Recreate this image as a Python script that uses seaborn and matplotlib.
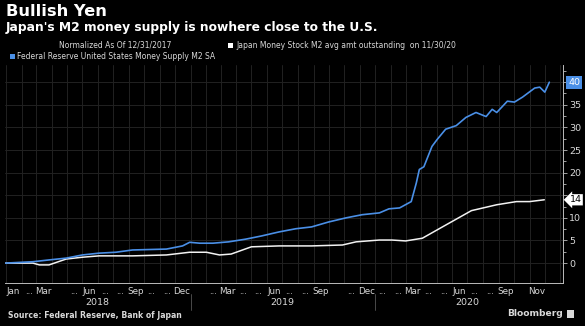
import matplotlib
matplotlib.use("Agg")
import matplotlib.pyplot as plt
import matplotlib.transforms as mtransforms
from matplotlib.patches import Rectangle
import pandas as pd
import seaborn as sns

# Federal Reserve M2 (SA), % change since 12/31/2017
fed_dates = [
    "2017-12-31", "2018-02-23", "2018-03-27", "2018-04-30", "2018-06-01",
    "2018-07-04", "2018-08-06", "2018-09-08", "2018-10-11", "2018-11-14",
    "2018-12-16", "2018-12-30", "2019-01-19", "2019-02-14", "2019-03-17",
    "2019-04-20", "2019-05-21", "2019-06-25", "2019-07-28", "2019-08-28",
    "2019-10-01", "2019-11-04", "2019-12-06", "2020-01-09", "2020-01-28",
    "2020-02-18", "2020-03-12", "2020-03-22", "2020-03-28", "2020-04-06",
    "2020-04-22", "2020-05-02", "2020-05-19", "2020-06-09", "2020-06-28",
    "2020-07-18", "2020-08-07", "2020-08-19", "2020-08-28", "2020-09-18",
    "2020-10-02", "2020-10-18", "2020-11-11", "2020-11-21", "2020-12-01",
    "2020-12-10",
]
fed_values = [
    0.0, 0.3, 0.7, 1.1, 1.8,
    2.2, 2.4, 2.9, 3.0, 3.1,
    3.8, 4.6, 4.4, 4.4, 4.7,
    5.3, 6.0, 6.9, 7.6, 8.0,
    9.1, 10.0, 10.7, 11.1, 12.0,
    12.2, 13.6, 17.7, 20.7, 21.3,
    25.8, 27.3, 29.6, 30.4, 32.2,
    33.3, 32.4, 34.0, 33.3, 35.8,
    35.6, 36.7, 38.7, 38.9, 37.8,
    40.0,
]

# Japan money stock M2, average amount outstanding, % change since 12/31/2017
jpn_dates = [
    "2017-12-31", "2018-02-23", "2018-03-08", "2018-03-27", "2018-04-30",
    "2018-06-01", "2018-07-04", "2018-09-08", "2018-11-14", "2018-12-30",
    "2019-02-01", "2019-02-27", "2019-03-22", "2019-05-01", "2019-06-25",
    "2019-08-28", "2019-10-28", "2019-11-24", "2020-01-09", "2020-02-03",
    "2020-03-01", "2020-04-03", "2020-05-19", "2020-07-09", "2020-08-28",
    "2020-10-06", "2020-11-01", "2020-11-30",
]
jpn_values = [
    0.0, 0.0, -0.4, -0.4, 0.9,
    1.3, 1.6, 1.6, 1.8, 2.4,
    2.4, 1.8, 2.0, 3.6, 3.8,
    3.8, 4.0, 4.7, 5.1, 5.1,
    4.9, 5.5, 8.4, 11.6, 12.9,
    13.6, 13.6, 14.0,
]

# Month labels on the time axis (one per month, Jan 2018 .. Nov 2020)
month_labels = [
    "Jan", "...", "Mar", "", "...", "Jun", "...", "...", "Sep", "...", "...", "Dec",
    "", "...", "Mar", "...", "...", "Jun", "...", "...", "Sep", "", "...", "Dec",
    "...", "...", "Mar", "...", "...", "Jun", "...", "...", "Sep", "", "Nov",
]
year_labels = ["2018", "2019", "2020"]
value_ticks = [0, 5, 10, 15, 20, 25, 30, 35, 40]

title = "Bullish Yen"
subtitle = "Japan's M2 money supply is nowhere close to the U.S."
norm_note = "Normalized As Of 12/31/2017"
jpn_name = "Japan Money Stock M2 avg amt outstanding  on 11/30/20"
fed_name = "Federal Reserve United States Money Supply M2 SA"
source = "Source: Federal Reserve, Bank of Japan"

BG = "#000000"
FED_BLUE = "#4a8fe6"
JPN_WHITE = "#f2f2f2"
GRID = "#222222"
TXT = "#d9d9d9"

sns.set_theme(style="dark")
plt.rcParams["font.family"] = ["DejaVu Sans"]

fed = pd.DataFrame({"date": pd.to_datetime(fed_dates), "value": fed_values})
jpn = pd.DataFrame({"date": pd.to_datetime(jpn_dates), "value": jpn_values})

fig = plt.figure(figsize=(5.85, 3.26), dpi=100, facecolor=BG)
ax = fig.add_axes([5 / 585, 1 - 283 / 326, (563 - 5) / 585, (283 - 65) / 326])
ax.set_facecolor(BG)

sns.lineplot(data=jpn, x="date", y="value", ax=ax, color=JPN_WHITE,
             linewidth=1.1, legend=False, zorder=3)
sns.lineplot(data=fed, x="date", y="value", ax=ax, color=FED_BLUE,
             linewidth=1.2, legend=False, zorder=4)

ax.set_xlim(pd.Timestamp("2017-12-30"), pd.Timestamp("2021-01-06"))
ax.set_ylim(-4.4, 43.8)
ax.set_xlabel("")
ax.set_ylabel("")

# time axis: month boundaries as ticks/grid, labels at mid-month
month_starts = pd.date_range("2018-01-01", "2021-01-01", freq="MS")
mid_months = [d + pd.Timedelta(days=14) for d in month_starts[:len(month_labels)]]
ax.set_xticks(month_starts)
ax.set_xticklabels([])
ax.set_xticks(mid_months, minor=True)
ax.set_xticklabels(month_labels, minor=True)
ax.tick_params(axis="x", which="major", length=3, color="#bbbbbb", width=0.6,
               direction="out")
ax.tick_params(axis="x", which="minor", length=0, pad=3, labelsize=6.3,
               labelcolor=TXT)

# value axis on the right; labels hidden where a last-value tag sits
tag_values = {round(fed_values[-1]), round(jpn_values[-1])}
ax.yaxis.tick_right()
ax.set_yticks(value_ticks)
ax.set_yticklabels([
    "" if any(abs(v - t) < 2.5 for t in tag_values) else str(v)
    for v in value_ticks
])
ax.set_yticks([2.5 + 5 * i for i in range(9)], minor=True)
ax.tick_params(axis="y", which="major", length=3, width=0.6, color="#bbbbbb",
               labelsize=6.8, labelcolor=TXT, pad=1.5)
ax.tick_params(axis="y", which="minor", length=2, width=0.6, color="#bbbbbb")

ax.grid(True, which="major", color=GRID, linewidth=0.7)
for side in ("top", "left"):
    ax.spines[side].set_visible(False)
for side in ("bottom", "right"):
    ax.spines[side].set_visible(True)
    ax.spines[side].set_color("#bbbbbb")
    ax.spines[side].set_linewidth(0.7)

# year labels and separators below the month row
trans = mtransforms.blended_transform_factory(ax.transData, ax.transAxes)
for yr in year_labels:
    ax.text(pd.Timestamp(f"{yr}-07-01"), -0.088, yr, transform=trans,
            ha="center", va="center", fontsize=6.8, color=TXT)
for yr in ("2019", "2020"):
    ax.plot([pd.Timestamp(f"{yr}-01-01")] * 2, [-0.05, -0.125], transform=trans,
            color="#555555", linewidth=0.6, clip_on=False)

# last-value tags on the right axis
ytrans = mtransforms.blended_transform_factory(ax.transAxes, ax.transData)
ax.text(1.009, fed_values[-1], f"{fed_values[-1]:.0f}", transform=ytrans,
        ha="left", va="center", fontsize=6.8, color="white", zorder=10,
        bbox=dict(boxstyle="square,pad=0.2", facecolor=FED_BLUE, edgecolor="none"))
ax.text(1.012, jpn_values[-1], f"{jpn_values[-1]:.0f}", transform=ytrans,
        ha="left", va="center", fontsize=6.8, color="black", zorder=10,
        bbox=dict(boxstyle="larrow,pad=0.12", facecolor="white", edgecolor="none"))

# header
fig.text(6 / 585, 1 - 11 / 326, title, fontsize=11.7, fontweight="bold",
         color="white", ha="left", va="center")
fig.text(6 / 585, 1 - 28 / 326, subtitle, fontsize=8.8, fontweight="bold",
         color="white", ha="left", va="center")
fig.text(115 / 585, 1 - 45 / 326, norm_note, fontsize=5.5, color=TXT,
         ha="center", va="center")
fig.patches.append(Rectangle((228 / 585, 1 - 48 / 326), 5 / 585, 5 / 326,
                             transform=fig.transFigure, facecolor="white",
                             edgecolor="none"))
fig.text(236 / 585, 1 - 45.5 / 326, jpn_name, fontsize=5.5, color=TXT,
         ha="left", va="center")
fig.patches.append(Rectangle((10 / 585, 1 - 59 / 326), 5 / 585, 5 / 326,
                             transform=fig.transFigure, facecolor=FED_BLUE,
                             edgecolor="none"))
fig.text(17 / 585, 1 - 56.5 / 326, fed_name, fontsize=5.5, color=TXT,
         ha="left", va="center")

# footer
fig.text(8 / 585, 1 - 316 / 326, source, fontsize=5.6, fontweight="bold",
         color=TXT, ha="left", va="center")
fig.text(563 / 585, 1 - 314 / 326, "Bloomberg", fontsize=6.6, fontweight="bold",
         color=TXT, ha="right", va="center")
fig.patches.append(Rectangle((567 / 585, 1 - 318 / 326), 7 / 585, 8 / 326,
                             transform=fig.transFigure, facecolor=TXT,
                             edgecolor="none"))

fig.savefig("out.png", dpi=100, facecolor=BG)
